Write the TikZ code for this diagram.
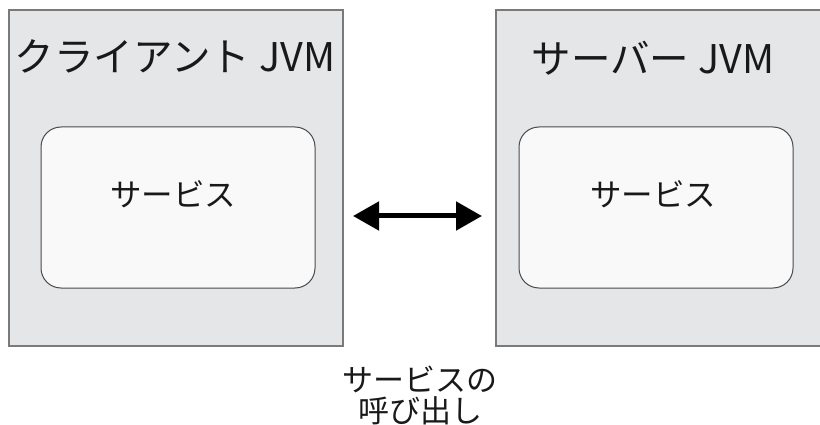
\documentclass[tikz,border=0pt]{standalone}
\usepackage{fontspec}
\setmainfont{Noto Sans CJK JP}
\usetikzlibrary{arrows.meta}
\definecolor{jvmfill}{HTML}{E5E6E8}
\definecolor{jvmline}{HTML}{7A7A7A}
\definecolor{svcfill}{HTML}{F9F9F9}
\definecolor{svcline}{HTML}{4A4A4A}
\tikzset{
  jvmbox/.style={draw=jvmline, fill=jvmfill, line width=1.2pt},
  svcbox/.style={draw=svcline, fill=svcfill, line width=1pt, rounded corners=20pt},
  titletext/.style={font=\fontsize{39.5}{42}\selectfont, text=black!90, inner sep=0pt, anchor=center},
  svctext/.style={font=\fontsize{31.5}{34}\selectfont, text=black!90, inner sep=0pt, anchor=center},
  captext/.style={font=\fontsize{31}{31}\selectfont, text=black!90, inner sep=0pt, align=center, anchor=center},
  callarrow/.style={line width=5pt, {Triangle[length=26pt,width=28pt]}-{Triangle[length=26pt,width=28pt]}}
}
\begin{document}
\begin{tikzpicture}[x=1pt,y=-1pt]
\useasboundingbox (0,0) rectangle (820,425);
\begin{scope}
\clip (0,0) rectangle (820,425);
\draw[jvmbox] (9,10) rectangle (343,346);
\draw[jvmbox] (496,10) rectangle (826,346);
\end{scope}
\draw[svcbox] (41,127) rectangle (315,288);
\draw[svcbox] (519,127) rectangle (793,288);
\node[titletext] (ctitle) at (175,56) {クライアント JVM};
\node[titletext] (stitle) at (653,58) {サーバー JVM};
\node[svctext] (csvc) at (173,194) {サービス};
\node[svctext] (ssvc) at (653,194) {サービス};
\coordinate (aL) at (353,216);
\coordinate (aR) at (482,216);
\draw[callarrow] (aL) -- (aR);
\node[captext] (cap) at (420,395) {サービスの\\呼び出し};
\end{tikzpicture}
\end{document}
